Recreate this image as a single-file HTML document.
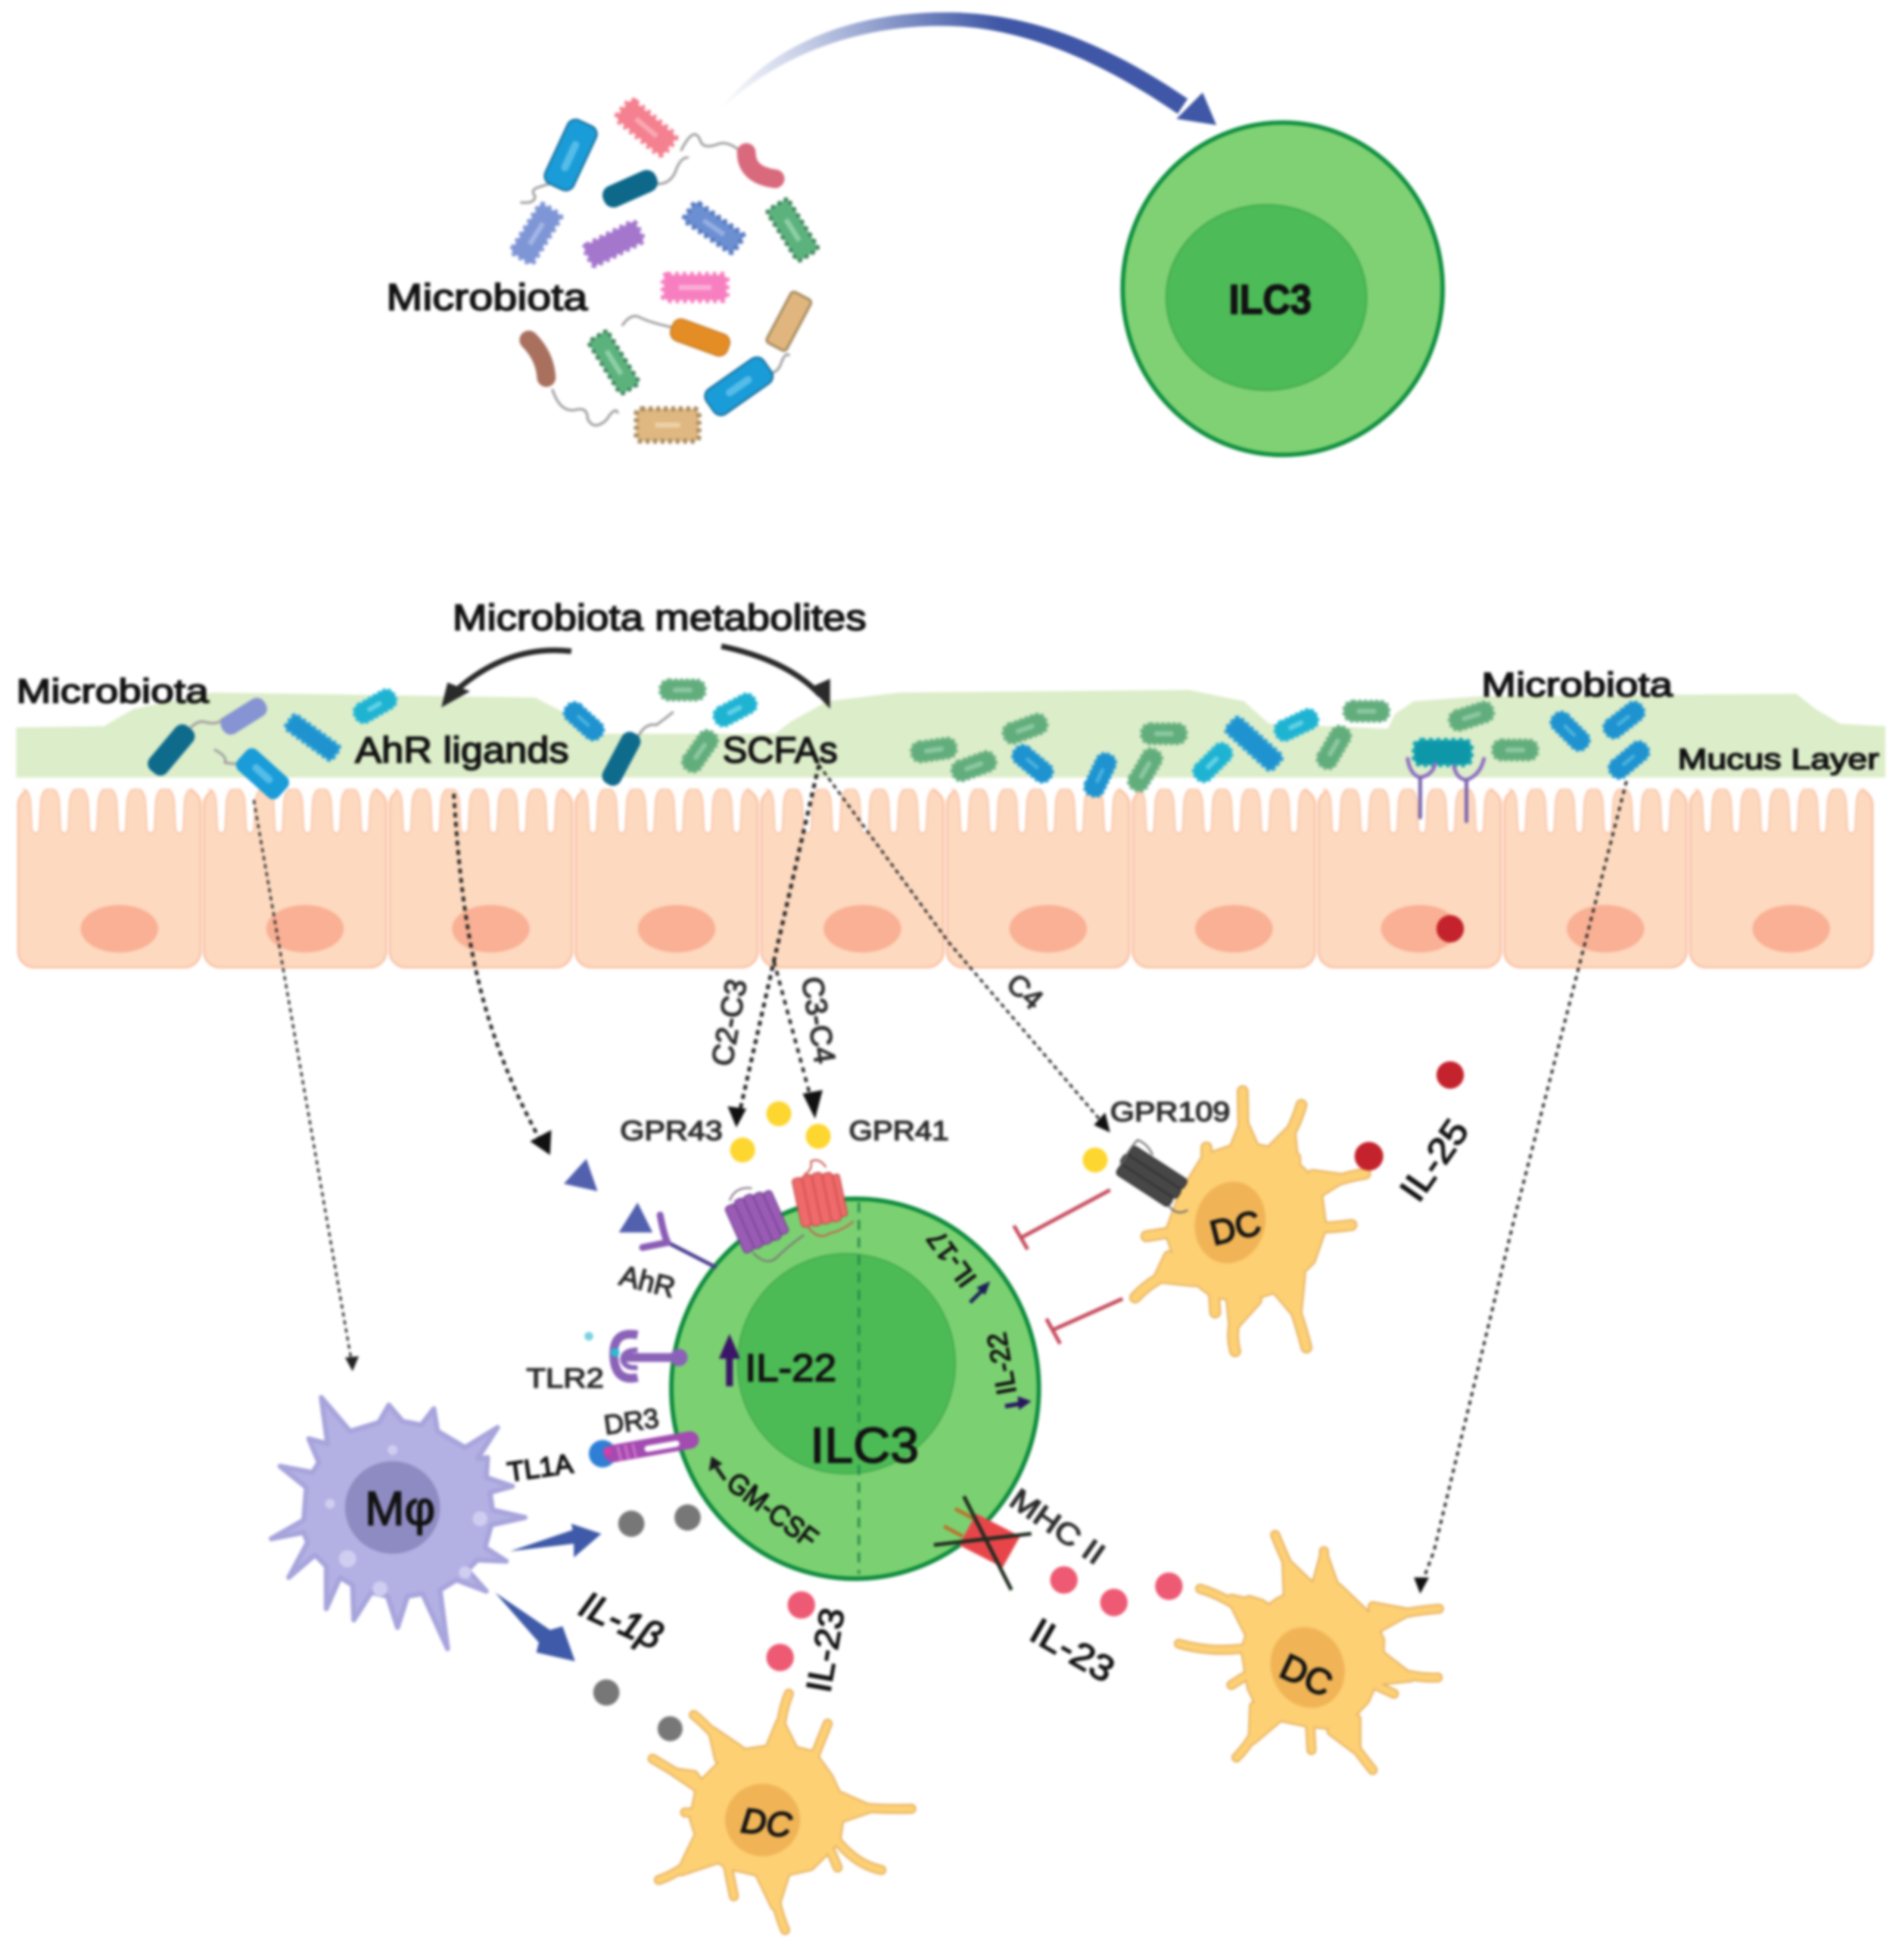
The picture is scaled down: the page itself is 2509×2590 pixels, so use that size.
<!DOCTYPE html>
<html><head><meta charset="utf-8"><title>Microbiota and ILC3</title>
<style>
html,body{margin:0;padding:0;background:#fff}
svg{display:block;width:2509px;height:2590px;filter:blur(1.9px)}
text{font-family:"Liberation Sans",sans-serif;fill:#121212}
.m{stroke:#121212;stroke-width:1.05}
.b{stroke:#121212;stroke-width:.9}
.g{fill:#2c2c2c;stroke:#2c2c2c;stroke-width:.9}
.c{text-anchor:middle}
.fl{fill:none;stroke:#a0a0a0;stroke-width:2;stroke-linecap:round}
.dot{fill:none;stroke:#222;stroke-linecap:butt}
</style></head><body>
<svg xmlns="http://www.w3.org/2000/svg" viewBox="0 0 1519 1568">
<defs>
<linearGradient id="ag" gradientUnits="userSpaceOnUse" x1="574" y1="90" x2="800" y2="20"><stop offset="0" stop-color="#fff"/><stop offset=".35" stop-color="#c5cde6"/><stop offset="1" stop-color="#3f57a6"/></linearGradient>
<g id="cell">
<rect x="0" y="631" width="146" height="143" rx="13" fill="#fdd9bf" stroke="#f9bb9c" stroke-width="1.4"/>
<g fill="#fff" stroke="#f9bea0" stroke-width="1">
<path d="M3,631 Q9,631 10,642 L11,664 Q14,669 17,664 L18,642 Q19,631 25,631"/>
<path d="M26,631 Q32,631 33,642 L34,664 Q37,669 40,664 L41,642 Q42,631 48,631"/>
<path d="M49,631 Q55,631 56,642 L57,664 Q60,669 63,664 L64,642 Q65,631 71,631"/>
<path d="M72,631 Q78,631 79,642 L80,664 Q83,669 86,664 L87,642 Q88,631 94,631"/>
<path d="M95,631 Q101,631 102,642 L103,664 Q106,669 109,664 L110,642 Q111,631 117,631"/>
<path d="M118,631 Q124,631 125,642 L126,664 Q129,669 132,664 L133,642 Q134,631 140,631"/>
</g>
<rect x="-2" y="625" width="150" height="6" fill="#fff"/>
<ellipse cx="81" cy="743" rx="31" ry="19" fill="#f9b094"/>
</g>
<g id="mg"><rect x="-18" y="-8" width="36" height="16" rx="7" fill="#62ad7c" stroke="#6fb388" stroke-width="2.5" stroke-dasharray="2.5 2"/><rect x="-8" y="-2" width="16" height="4" rx="2" fill="#8ac7a0"/></g>
<g id="mb"><rect x="-18" y="-8" width="36" height="16" rx="7" fill="#1e93cf" stroke="#2b9cd5" stroke-width="2.2" stroke-dasharray="2.5 2"/><rect x="-7" y="-1.5" width="13" height="3" rx="1.5" fill="#48b1e0"/></g>
<g id="mc"><rect x="-18" y="-8" width="36" height="16" rx="7" fill="#1fb3d2" stroke="#2dbbd8" stroke-width="2.2" stroke-dasharray="2.5 2"/><rect x="-7" y="-2" width="13" height="4" rx="2" fill="#5fd0e6"/></g>
<g id="dc1">
<polygon points="965,927 995,917 1022,923 1040,937 1053,951 1057,982 1048,1008 1027,1028 995,1038 971,1034 946,1015 936,986 947,956"/>
<polygon points="985,925 1006,925 995,900"/><polygon points="1012,925 1035,935 1032,905"/><polygon points="1045,960 1050,940 1072,943"/><polygon points="1020,1030 1040,1020 1037,1050"/><polygon points="985,1040 1005,1040 987,1060"/><polygon points="935,1005 955,1025 927,1022"/>
<path fill="none" stroke-linecap="round" d="M995,925L994,873M1020,925Q1035,905 1041,884M1050,952Q1072,942 1092,939M1055,982Q1068,982 1081,980M1028,1028Q1038,1050 1045,1078M997,1038Q982,1058 988,1081M971,1034L972,1050M944,1017Q925,1020 908,1038M936,986L917,989M965,927L965,918M1036,935L1036,926"/>
</g>
<g id="dc2">
<polygon points="585,1404 625,1398 650,1404 663,1422 673,1444 669,1472 648,1493 617,1500 583,1492 563,1480 555,1455 560,1429"/>
<polygon points="615,1400 635,1400 624,1378"/><polygon points="575,1407 592,1400 570,1385"/><polygon points="555,1420 565,1435 540,1418"/><polygon points="668,1435 672,1455 695,1447"/><polygon points="608,1500 628,1500 620,1525"/><polygon points="558,1470 572,1488 545,1497"/>
<path fill="none" stroke-linecap="round" d="M625,1400Q622,1378 631,1355M652,1404L662,1379M584,1404Q570,1384 555,1372M560,1429Q540,1418 522,1407M558,1450L548,1450M673,1444Q700,1448 729,1447M665,1482L670,1494M669,1472Q685,1492 705,1496M617,1500Q620,1525 628,1544M582,1492L587,1517M563,1480Q545,1498 527,1504"/>
</g>
<g id="dc3">
<polygon points="1022,1282 1045,1270 1070,1270 1093,1292 1104,1312 1103,1335 1092,1360 1072,1381 1045,1378 1011,1371 1001,1350 996,1320 1003,1297"/>
<polygon points="1030,1275 1050,1270 1029,1250"/><polygon points="1052,1270 1068,1270 1059,1245"/><polygon points="998,1305 1012,1285 985,1279"/><polygon points="1098,1305 1098,1285 1125,1290"/><polygon points="1102,1322 1098,1345 1128,1342"/><polygon points="1065,1385 1085,1375 1085,1400"/><polygon points="1003,1365 1022,1375 1002,1392"/>
<path fill="none" stroke-linecap="round" d="M1039,1270Q1028,1248 1020,1228M1059,1270L1059,1241M1001,1294Q983,1278 960,1271M993,1319Q967,1322 943,1315M996,1341L985,1348M1009,1283L999,1280M1100,1296Q1126,1289 1151,1287M1106,1333Q1128,1343 1150,1342M1100,1348L1115,1355M1072,1381Q1085,1400 1098,1416M1048,1381L1049,1400M1011,1371Q1002,1393 989,1406"/>
</g>
</defs>

<rect width="1519" height="1568" fill="#fff"/>

<!-- top arrow -->
<path d="M574,90 C620,30 690,8 765,10 C830,12 890,38 950,79 L942,91 C885,52 825,24 765,21 C695,18 625,40 574,90Z" fill="url(#ag)"/>
<polygon points="973,100 962,74 941,95" fill="#3f57a6"/>

<!-- flagella top -->
<path class="fl" d="M446,145Q436,148 430,150Q424,152 428,157Q428,163 417,162"/>
<path class="fl" stroke="#bda8a8" d="M598,127Q585,112 575,115Q562,120 560,112Q555,100 545,120"/>
<path class="fl" d="M525,147Q535,148 540,138Q544,126 550,126"/>
<path class="fl" stroke="#bdaaa0" d="M538,262Q520,258 512,254Q505,250 498,260"/>
<path class="fl" d="M442,312Q448,330 460,328Q470,325 470,335Q475,345 485,336Q492,325 494,330"/>
<path class="fl" stroke="#5a8aa8" d="M611,299Q622,300 625,290Q628,282 631,284"/>

<!-- top bacteria -->
<g transform="translate(456.5,124) rotate(-65)"><rect x="-28" y="-12.5" width="56" height="25" rx="7" fill="#1a9cd8" stroke="#1a6f9c" stroke-width="1.5"/><rect x="-14" y="-3" width="26" height="6" rx="3" fill="#55bce8"/></g>
<g transform="translate(517,102) rotate(40)"><rect x="-24" y="-10" width="48" height="20" rx="4" fill="#f5808f" stroke="#f5808f" stroke-width="5" stroke-dasharray="3 3"/><rect x="-11" y="-2" width="22" height="4" fill="#f9a8b3"/></g>
<path d="M597,122Q597,140 620,143" fill="none" stroke="#d9697c" stroke-width="15" stroke-linecap="round"/>
<g transform="translate(504,151) rotate(-24)"><rect x="-23" y="-9" width="46" height="18" rx="8" fill="#0d688a"/></g>
<g transform="translate(429,187) rotate(-58)"><rect x="-23" y="-10" width="46" height="20" rx="3" fill="#7f96d6" stroke="#7f96d6" stroke-width="4" stroke-dasharray="3 3"/><rect x="-10" y="-2" width="20" height="4" fill="#a3b5e6"/></g>
<g transform="translate(491,195) rotate(-27)"><rect x="-23" y="-9" width="46" height="18" rx="3" fill="#a477cd" stroke="#a477cd" stroke-width="4" stroke-dasharray="3 3"/></g>
<g transform="translate(571,182) rotate(35)"><rect x="-24" y="-9" width="48" height="18" rx="3" fill="#6c8fd2" stroke="#5578be" stroke-width="4" stroke-dasharray="3 3"/><rect x="-10" y="-2" width="20" height="4" fill="#94aee2"/></g>
<g transform="translate(634,184) rotate(58)"><rect x="-24" y="-10" width="48" height="20" rx="3" fill="#5cb27d" stroke="#3f7f5a" stroke-width="3" stroke-dasharray="3 3"/><rect x="-10" y="-2" width="20" height="4" fill="#8fd0a6"/></g>
<g transform="translate(556,230)"><rect x="-25" y="-10" width="50" height="20" rx="3" fill="#f77fc0" stroke="#f77fc0" stroke-width="5" stroke-dasharray="3 3"/><rect x="-13" y="-2" width="26" height="4" fill="#faaed8"/></g>
<g transform="translate(631,257) rotate(-62)"><rect x="-23" y="-9" width="46" height="18" rx="3" fill="#e0b67e" stroke="#a58a60" stroke-width="2"/></g>
<g transform="translate(560,270) rotate(20)"><rect x="-24" y="-9" width="48" height="18" rx="7" fill="#e48d25" stroke="#c77c26" stroke-width="1.2"/></g>
<path d="M423,272Q436,285 437,302" fill="none" stroke="#a9705e" stroke-width="15" stroke-linecap="round"/>
<g transform="translate(491,290) rotate(58)"><rect x="-25" y="-9" width="50" height="18" rx="3" fill="#5cb27d" stroke="#3f7f5a" stroke-width="3" stroke-dasharray="3 3"/><rect x="-11" y="-2" width="22" height="4" fill="#8fd0a6"/></g>
<g transform="translate(591,309) rotate(-35)"><rect x="-28" y="-12" width="56" height="24" rx="7" fill="#1a9cd8" stroke="#1a6f9c" stroke-width="1.5"/><rect x="-12" y="-3" width="24" height="6" rx="3" fill="#55bce8"/></g>
<g transform="translate(534,340)"><rect x="-25" y="-13" width="50" height="26" rx="4" fill="#dfb780" stroke="#a58a60" stroke-width="4" stroke-dasharray="3 3"/><rect x="-10" y="-2" width="20" height="4" fill="#ecd2a8"/></g>

<text x="309" y="248" class="m" font-size="30" textLength="161" lengthAdjust="spacingAndGlyphs">Microbiota</text>

<!-- top ILC3 -->
<ellipse cx="1026" cy="231" rx="128" ry="133" fill="#80d174" stroke="#0e8f3e" stroke-width="3.5"/>
<ellipse cx="1013" cy="238" rx="80" ry="74" fill="#4dbb58" stroke="#44ad50" stroke-width="1.5"/>
<text x="1016" y="251" class="m c" font-size="33" font-weight="bold" textLength="66" lengthAdjust="spacingAndGlyphs">ILC3</text>

<!-- mucus layer -->
<polygon points="13,582 83,581 107,567 170,554 428,558 457,573 477,587 620,587 633,577 662,561 720,554 951,552 995,561 1015,579 1110,583 1116,571 1131,561 1185,557 1437,555 1452,567 1472,579 1508,581 1508,622 13,622" fill="#dcedc9"/>

<!-- epithelial cells -->
<use href="#cell" x="14.5"/><use href="#cell" x="163"/><use href="#cell" x="311.6"/><use href="#cell" x="460.2"/><use href="#cell" x="608.8"/><use href="#cell" x="757.4"/><use href="#cell" x="906"/><use href="#cell" x="1054.6"/><use href="#cell" x="1203.2"/><use href="#cell" x="1351.8"/>
<circle cx="1160" cy="743" r="11" fill="#c4232d"/>

<!-- mucus bacteria -->
<path class="fl" stroke="#8ba0a8" d="M150,585Q158,575 165,578Q175,580 178,575"/>
<path class="fl" stroke="#8ba0a8" d="M172,600Q182,605 180,610Q188,612 195,610"/>
<path class="fl" stroke="#8ba0a8" d="M510,590Q516,578 525,580Q532,575 538,570"/>
<g transform="translate(195,573) rotate(-32)"><rect x="-20" y="-8" width="40" height="16" rx="7" fill="#8694d3"/></g>
<g transform="translate(137,600) rotate(-50)"><rect x="-23" y="-9" width="46" height="18" rx="7" fill="#0f6b8c"/></g>
<g transform="translate(250,590) rotate(36)"><rect x="-23" y="-7" width="46" height="14" rx="3" fill="#1e93cf" stroke="#2b9fd8" stroke-width="3" stroke-dasharray="3 2"/></g>
<use href="#mc" transform="translate(300,565) rotate(-30)"/>
<g transform="translate(210,619) rotate(42)"><rect x="-22" y="-11" width="44" height="22" rx="6" fill="#1a9cd8"/><rect x="-10" y="-3" width="20" height="6" rx="3" fill="#55bce8"/></g>
<use href="#mb" transform="translate(467,577) rotate(42)"/>
<g transform="translate(497,607) rotate(-62)"><rect x="-23" y="-8" width="46" height="16" rx="7" fill="#0f6b8c"/></g>
<use href="#mg" transform="translate(546,552)"/>
<use href="#mc" transform="translate(588,568) rotate(-28)"/>
<use href="#mg" transform="translate(560,601) rotate(-55)"/>
<use href="#mg" transform="translate(747,600) rotate(-8)"/>
<use href="#mg" transform="translate(820,583) rotate(-20)"/>
<use href="#mg" transform="translate(779,613) rotate(-20)"/>
<use href="#mb" transform="translate(826,611) rotate(40)"/>
<use href="#mb" transform="translate(880,620) rotate(-65)"/>
<use href="#mg" transform="translate(916,616) rotate(-60)"/>
<use href="#mg" transform="translate(931,587)"/>
<use href="#mc" transform="translate(970,610) rotate(-45)"/>
<g transform="translate(1003,595) rotate(42)"><rect x="-25" y="-8" width="50" height="16" rx="4" fill="#1e93cf" stroke="#2b9fd8" stroke-width="3" stroke-dasharray="3 2"/></g>
<use href="#mc" transform="translate(1037,580) rotate(-25)"/>
<use href="#mg" transform="translate(1067,598) rotate(-60)"/>
<use href="#mg" transform="translate(1093,569)"/>
<use href="#mg" transform="translate(1177,573) rotate(-18)"/>
<use href="#mg" transform="translate(1212,600)"/>
<use href="#mb" transform="translate(1256,585) rotate(45)"/>
<use href="#mb" transform="translate(1299,576) rotate(-38)"/>
<use href="#mb" transform="translate(1303,608) rotate(-40)"/>
<rect x="1131" y="592" width="46" height="20" rx="6" fill="#0d97a8" stroke="#11a5b5" stroke-width="3.5" stroke-dasharray="3 3"/>
<g fill="none" stroke="#8d6fc0" stroke-width="3" stroke-linecap="round"><path d="M1126,607Q1128,620 1136,622Q1146,620 1148,611M1163,613Q1165,623 1173,624Q1184,620 1187,607"/><path d="M1136,622L1136,654M1173,624L1173,657" stroke="#7a66ac"/></g>

<!-- labels mucus -->
<text x="362" y="504" class="m" font-size="29" textLength="331" lengthAdjust="spacingAndGlyphs">Microbiota metabolites</text>
<text x="13" y="562" class="m" font-size="27" textLength="154" lengthAdjust="spacingAndGlyphs">Microbiota</text>
<text x="284" y="610" class="m" font-size="29" textLength="171" lengthAdjust="spacingAndGlyphs">AhR ligands</text>
<text x="578" y="610" class="m" font-size="29" textLength="92" lengthAdjust="spacingAndGlyphs">SCFAs</text>
<text x="1185" y="557" class="m" font-size="27" textLength="153" lengthAdjust="spacingAndGlyphs">Microbiota</text>
<text x="1342" y="615" class="m" font-size="23" textLength="161" lengthAdjust="spacingAndGlyphs">Mucus Layer</text>

<!-- curved black arrows -->
<path d="M457,521Q405,515 362,555" fill="none" stroke="#2a2a2a" stroke-width="4.5"/>
<polygon points="353,566 358,546 376,553" fill="#2a2a2a"/>
<path d="M577,517Q630,528 656,556" fill="none" stroke="#2a2a2a" stroke-width="4.5"/>
<polygon points="664,567 648,550 664,543" fill="#2a2a2a"/>

<!-- dotted connectors -->
<path class="dot" stroke-width="1.8" stroke-dasharray="3.5 3" d="M203,640L281,1088"/>
<polygon points="282,1097 276,1086 287,1085" fill="#222"/>
<path class="dot" stroke-width="2.8" stroke-dasharray="4 3.5" d="M363,635C370,750 385,825 432,912"/>
<polygon points="440,924 424,913 441,904" fill="#111"/>
<path class="dot" stroke-width="3" stroke-dasharray="4 3.5" d="M655,612L619,769L592,888"/>
<polygon points="589,902 582,885 597,887" fill="#111"/>
<path class="dot" stroke-width="2.6" stroke="#444" stroke-dasharray="4 4" d="M619,769L649,880"/>
<polygon points="652,895 642,875 658,872" fill="#111"/>
<path class="dot" stroke-width="2" stroke-dasharray="3.5 3" d="M655,612L759,754L880,896"/>
<polygon points="888,906 875,900 884,890" fill="#111"/>
<path class="dot" stroke-width="2.2" stroke="#555" stroke-dasharray="3.5 3.5" d="M1301,625L1260,785L1211,976L1147,1241L1139,1262"/>
<polygon points="1136,1275 1131,1262 1143,1262" fill="#111"/>

<text class="g c" font-size="24" transform="translate(583,818) rotate(-80)" dy=".35em" textLength="70">C2-C3</text>
<text class="g c" font-size="24" transform="translate(655,816) rotate(81)" dy=".35em" textLength="70">C3-C4</text>
<text class="g c" font-size="23" transform="translate(820,793) rotate(42)" dy=".35em">C4</text>
<text x="496" y="912" class="g" font-size="22" textLength="82" lengthAdjust="spacingAndGlyphs">GPR43</text>
<text x="679" y="912" class="g" font-size="22" textLength="80" lengthAdjust="spacingAndGlyphs">GPR41</text>
<text x="888" y="897" class="g" font-size="22" textLength="96" lengthAdjust="spacingAndGlyphs">GPR109</text>

<!-- main ILC3 -->
<ellipse cx="684" cy="1111" rx="147" ry="152" fill="#7bd171" stroke="#0c8a3c" stroke-width="3.5"/>
<ellipse cx="677" cy="1091" rx="87" ry="88" fill="#4cbb55" stroke="#44a850" stroke-width="1.2"/>
<path d="M687,962V1259" stroke="#2a8a4a" stroke-width="2" stroke-dasharray="8 6"/>

<!-- yellow -->
<circle cx="623" cy="891" r="10" fill="#fdd62f"/><circle cx="654.5" cy="909" r="10" fill="#fdd62f"/><circle cx="594" cy="920" r="10" fill="#fdd62f"/><circle cx="876" cy="928" r="10" fill="#fdd62f"/>

<!-- GPR43 -->
<g transform="translate(605,976) rotate(-24) scale(.88)">
<g fill="#9a5bb5" stroke="#6b3f8a" stroke-width="1"><rect x="-22" y="-22" width="10" height="46" rx="3"/><rect x="-12" y="-24" width="9" height="48" rx="3"/><rect x="-3" y="-24" width="9" height="48" rx="3"/><rect x="6" y="-22" width="9" height="46" rx="3"/><rect x="15" y="-20" width="8" height="42" rx="3"/></g>
<path d="M-15,-26Q-5,-36 8,-28M-15,26Q-8,44 5,38Q15,34 34,30" fill="none" stroke="#7d6a7a" stroke-width="1.5"/>
</g>
<!-- GPR41 -->
<g transform="translate(655,959) rotate(-12) scale(.9)">
<g fill="#ef6a6a" stroke="#c54848" stroke-width="1"><rect x="-20" y="-22" width="9" height="44" rx="3"/><rect x="-11" y="-23" width="9" height="46" rx="3"/><rect x="-2" y="-23" width="9" height="46" rx="3"/><rect x="7" y="-21" width="9" height="44" rx="3"/><rect x="16" y="-18" width="6" height="38" rx="2"/></g>
<path d="M-8,-24Q0,-26 0,-34Q8,-36 12,-26M-15,22Q-8,37 3,32Q15,32 26,26" fill="none" stroke="#c9584e" stroke-width="1.5"/>
</g>
<!-- AhR -->
<path d="M573,1014L534,994" stroke="#4a3a90" stroke-width="3"/>
<path d="M528,972Q531,988 534,994L514,998" fill="none" stroke="#8a5cb5" stroke-width="5.5" stroke-linecap="round" stroke-linejoin="round"/>
<polygon points="469,927 451,947 478,953" fill="#5260ae"/><polygon points="510,962 495,986 522,986" fill="#5260ae"/>
<text class="g c" font-size="23" transform="translate(518,1025) rotate(14)" dy=".35em">AhR</text>

<!-- TLR2 -->
<path d="M510,1068Q490,1064 491,1085Q492,1106 510,1102" fill="none" stroke="#8a62b8" stroke-width="7"/>
<path d="M510,1080Q498,1080 498,1088Q500,1095 510,1094" fill="none" stroke="#8a62b8" stroke-width="4"/>
<path d="M500,1086L545,1086" stroke="#8a62b8" stroke-width="7"/><circle cx="543" cy="1086" r="7" fill="#8a62b8"/>
<circle cx="471" cy="1069" r="3.5" fill="#7bd2df"/><circle cx="492" cy="1082" r="3.5" fill="#2bbcd0"/>
<text x="421" y="1110" class="g" font-size="22" textLength="62" lengthAdjust="spacingAndGlyphs">TLR2</text>

<!-- DR3 / TL1A -->
<circle cx="482" cy="1163" r="11" fill="#2f7fd6"/>
<path d="M490,1163L552,1152" stroke="#a24bb0" stroke-width="14" stroke-linecap="round"/>
<path d="M518,1159L541,1155" stroke="#fff" stroke-width="5" stroke-linecap="round"/>
<path d="M494,1157L497,1169M500,1156L503,1168M506,1155L509,1167" stroke="#d470c8" stroke-width="2"/>
<circle cx="486" cy="1161" r="3.5" fill="#d040a8"/>
<text class="g c" font-size="22" transform="translate(505,1137) rotate(-8)" dy=".35em">DR3</text>
<text class="m c" font-size="22" transform="translate(432,1174) rotate(-8)" dy=".35em">TL1A</text>

<!-- ILC3 inner labels -->
<path d="M583.5,1109V1080" stroke="#3b1567" stroke-width="5.5"/><polygon points="583.5,1067 575,1087 592,1087" fill="#3b1567"/>
<text x="596" y="1105" class="m" font-size="31" textLength="73" lengthAdjust="spacingAndGlyphs">IL-22</text>
<text x="648" y="1170" class="m" font-size="40" textLength="87" lengthAdjust="spacingAndGlyphs">ILC3</text>
<text class="b c" font-size="23" transform="translate(618,1208) rotate(37)" dy=".35em" textLength="84" lengthAdjust="spacingAndGlyphs">GM-CSF</text>
<path d="M580,1184L573,1174" stroke="#1c1c1c" stroke-width="3"/><polygon points="569,1165 567,1177 578,1171" fill="#1c1c1c"/>
<text class="b c" font-size="22" transform="translate(761,1007) rotate(234)" dy=".35em">IL-17</text>
<path d="M776,1042L786,1032" stroke="#1e1e5a" stroke-width="3"/><polygon points="792,1025 781,1030 788,1036" fill="#1e1e5a"/>
<text class="b c" font-size="22" transform="translate(801,1091) rotate(260)" dy=".35em">IL-22</text>
<path d="M804,1125L816,1123" stroke="#2a1560" stroke-width="3.5"/><polygon points="825,1121 814,1117 815,1128" fill="#2a1560"/>

<!-- inhibitors -->
<g stroke="#c64a5c" stroke-width="3" fill="none"><path d="M888,952L817,990M811,980.5L822,999.5M898,1039L842,1064M837,1055L848,1075"/></g>

<!-- DC1 -->
<use href="#dc1" fill="#e5ae5c" stroke="#e5ae5c" stroke-width="9.5" stroke-linejoin="round"/>
<use href="#dc1" fill="#fdd074" stroke="#fdd074" stroke-width="7" stroke-linejoin="round"/>
<ellipse cx="984" cy="978" rx="28" ry="33" fill="#f0b456" transform="rotate(15 984 978)"/>
<text class="m c" font-size="28" transform="translate(988,982) rotate(-14)" dy=".35em">DC</text>
<!-- GPR109 -->
<g transform="translate(921,942) rotate(33)">
<g fill="#474747" stroke="#2a2a2a" stroke-width="1"><rect x="-26" y="-14" width="52" height="9" rx="3"/><rect x="-28" y="-5" width="54" height="9" rx="3"/><rect x="-26" y="4" width="50" height="9" rx="3"/></g>
</g>
<path d="M896,933Q904,918 910,912Q918,915 922,924M935,965Q942,973 950,968" fill="none" stroke="#666" stroke-width="1.4"/>
<circle cx="1095" cy="925" r="11.5" fill="#c4232d"/><circle cx="1160" cy="860" r="11" fill="#c4232d"/>
<text class="b c" font-size="29" transform="translate(1147,928) rotate(-55)" dy=".35em" textLength="72" lengthAdjust="spacingAndGlyphs">IL-25</text>

<!-- Macrophage -->
<polygon points="262,1155 257,1118 280,1145 303,1138 311,1124 322,1137 337,1140 347,1127 350,1145 372,1158 398,1142 382,1167 390,1166 389,1182 410,1189 392,1194 394,1208 420,1214 393,1220 388,1238 405,1249 382,1248 374,1256 389,1273 365,1264 352,1272 358,1319 338,1275 326,1277 318,1302 310,1277 297,1274 283,1296 282,1268 272,1262 261,1287 261,1253 252,1244 231,1262 246,1234 243,1226 217,1231 243,1216 245,1190 224,1173 250,1178 255,1170 247,1151" fill="#b3b0e3" stroke="#a7a4dc" stroke-width="4" stroke-linejoin="round"/>
<ellipse cx="314" cy="1206" rx="38" ry="37" fill="#8e8bc2"/>
<g fill="#cfcdf0"><circle cx="314" cy="1160" r="4"/><circle cx="264" cy="1203" r="4"/><circle cx="384" cy="1215" r="6"/><circle cx="278" cy="1247" r="7"/><circle cx="372" cy="1258" r="5"/><circle cx="304" cy="1271" r="6"/></g>
<text x="320" y="1220" class="m c" font-size="38">Mφ</text>

<!-- blue arrows -->
<polygon points="408,1241 458,1224 457,1219 481,1227 459,1246 459,1235" fill="#3f5aa8"/>
<polygon points="396,1274 440,1304 450,1301 460,1329 429,1322 431,1314" fill="#3f5aa8"/>

<!-- cytokines -->
<g fill="#777"><circle cx="505" cy="1219" r="10.5"/><circle cx="550" cy="1214" r="10.5"/><circle cx="485" cy="1354" r="10.5"/><circle cx="536" cy="1383" r="10"/></g>
<g fill="#ee5a74"><circle cx="641" cy="1284" r="11"/><circle cx="624" cy="1326" r="11"/><circle cx="851" cy="1264" r="11"/><circle cx="891" cy="1282" r="11"/><circle cx="935" cy="1269" r="11"/></g>
<text class="m" font-size="30" font-style="italic" text-anchor="middle" transform="translate(497,1296) rotate(25)" dy=".35em">IL-1β</text>
<text class="b c" font-size="28" transform="translate(660,1320) rotate(-80)" dy=".35em" textLength="68" lengthAdjust="spacingAndGlyphs">IL-23</text>
<text class="b c" font-size="29" transform="translate(858,1320) rotate(30)" dy=".35em" textLength="72" lengthAdjust="spacingAndGlyphs">IL-23</text>

<!-- MHC II -->
<polygon points="781,1211 816,1229 802,1254 767,1236" fill="#e8454a"/>
<path d="M764,1207L779,1215M755,1221L770,1229" stroke="#b8742a" stroke-width="3"/>
<path d="M771,1197L809,1272M747,1236L825,1227" stroke="#1e2a1e" stroke-width="3"/>
<text class="g c" font-size="24" transform="translate(846,1221) rotate(35)" dy=".35em" textLength="86" lengthAdjust="spacingAndGlyphs">MHC II</text>

<!-- DC2 -->
<use href="#dc2" fill="#e5ae5c" stroke="#e5ae5c" stroke-width="8" stroke-linejoin="round"/>
<use href="#dc2" fill="#fdd074" stroke="#fdd074" stroke-width="5.5" stroke-linejoin="round"/>
<ellipse cx="610" cy="1456" rx="30" ry="29" fill="#f0b456"/>
<text class="m c" font-size="28" transform="translate(613,1458) rotate(6)" dy=".35em" font-style="italic">DC</text>

<!-- DC3 -->
<use href="#dc3" fill="#e5ae5c" stroke="#e5ae5c" stroke-width="8" stroke-linejoin="round"/>
<use href="#dc3" fill="#fdd074" stroke="#fdd074" stroke-width="5.5" stroke-linejoin="round"/>
<ellipse cx="1046" cy="1334" rx="29" ry="33" fill="#f0b456" transform="rotate(-25 1046 1334)"/>
<text class="m c" font-size="29" transform="translate(1045,1340) rotate(25)" dy=".35em">DC</text>
</svg>
</body></html>
